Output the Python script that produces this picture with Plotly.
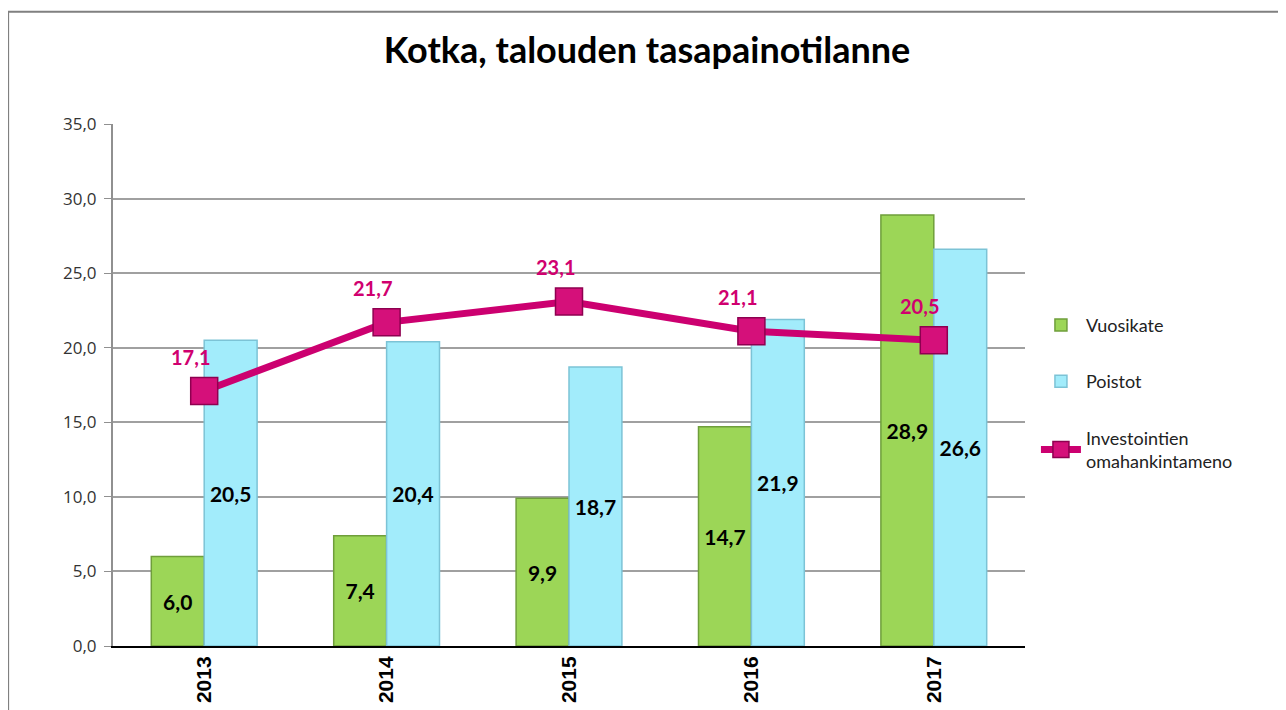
import plotly.graph_objects as go

years = ["2013", "2014", "2015", "2016", "2017"]
vuosikate = [6.0, 7.4, 9.9, 14.7, 28.9]
poistot = [20.5, 20.4, 18.7, 21.9, 26.6]
omahankinta = [17.1, 21.7, 23.1, 21.1, 20.5]

title_text = "Kotka, talouden tasapainotilanne"
y_ticks = [0, 5, 10, 15, 20, 25, 30, 35]


def fi(v):
    return f"{v:.1f}".replace(".", ",")


fig = go.Figure()

fig.add_trace(go.Bar(
    x=years, y=vuosikate, name="Vuosikate", legendgroup="a",
    marker=dict(color="#9CD657", line=dict(color="#6F9E3B", width=1.5)),
    text=[fi(v) for v in vuosikate], textposition="inside",
    insidetextanchor="middle", textangle=0,
    textfont=dict(family="Lato, sans-serif", size=21, color="black", weight="bold"),
))
fig.add_trace(go.Bar(
    x=years, y=poistot, name="Poistot", legendgroup="b",
    marker=dict(color="#A2ECFB", line=dict(color="#7CC3D6", width=1.5)),
    text=[fi(v) for v in poistot], textposition="inside",
    insidetextanchor="middle", textangle=0,
    textfont=dict(family="Lato, sans-serif", size=21, color="black", weight="bold"),
))
fig.add_trace(go.Scatter(
    x=years, y=omahankinta, name="Investointien<br>omahankintameno", legendgroup="c",
    mode="lines+markers",
    line=dict(color="#CC0070", width=7),
    marker=dict(symbol="square", size=27, color="#D5107A",
                line=dict(color="#8E0050", width=1.5)),
))

# category axis: annotations take the category index
for i, v in enumerate(omahankinta):
    fig.add_annotation(
        x=i, y=v, xref="x", yref="y", text=fi(v), showarrow=False,
        xshift=-14, yshift=34,
        font=dict(family="Lato, sans-serif", size=20, color="#D0006F", weight="bold"),
    )

# outer chart border
fig.add_shape(type="rect", xref="paper", yref="paper",
              x0=-0.115, x1=1.29, y0=-0.2, y1=1.215,
              line=dict(color="#808080", width=2), layer="below")

fig.update_layout(
    width=1278, height=702,
    margin=dict(l=105, r=261, t=116, b=64),
    paper_bgcolor="white", plot_bgcolor="white",
    separators=",.",
    barmode="group", bargap=0.42, bargroupgap=0,
    title=dict(text=title_text, x=0.5, xanchor="center", y=0.94, yanchor="middle",
               font=dict(family="Lato, sans-serif", size=36, color="black", weight="bold")),
    legend=dict(x=1.012, y=0.65, xanchor="left", yanchor="top",
                font=dict(family="Lato, sans-serif", size=18, color="#222222"),
                tracegroupgap=30, itemwidth=40, traceorder="grouped"),
    showlegend=True,
)
fig.update_yaxes(range=[0, 35], tickvals=y_ticks, tickformat=".1f",
                 showgrid=True, gridcolor="#A0A0A0", gridwidth=1.5,
                 showline=True, linecolor="#909090", linewidth=2,
                 ticks="outside", ticklen=7, tickcolor="#909090", zeroline=False,
                 automargin=False, ticklabelstandoff=4,
                 tickfont=dict(family="Open Sans, sans-serif", size=17, color="#333333"))
fig.update_xaxes(type="category", range=[-0.5, 4.5], showline=True, linecolor="black",
                 linewidth=2, ticks="", tickangle=-90, automargin=False,
                 tickfont=dict(family="Liberation Sans", size=21, color="black", weight="bold"))

fig.write_html("out.html")
